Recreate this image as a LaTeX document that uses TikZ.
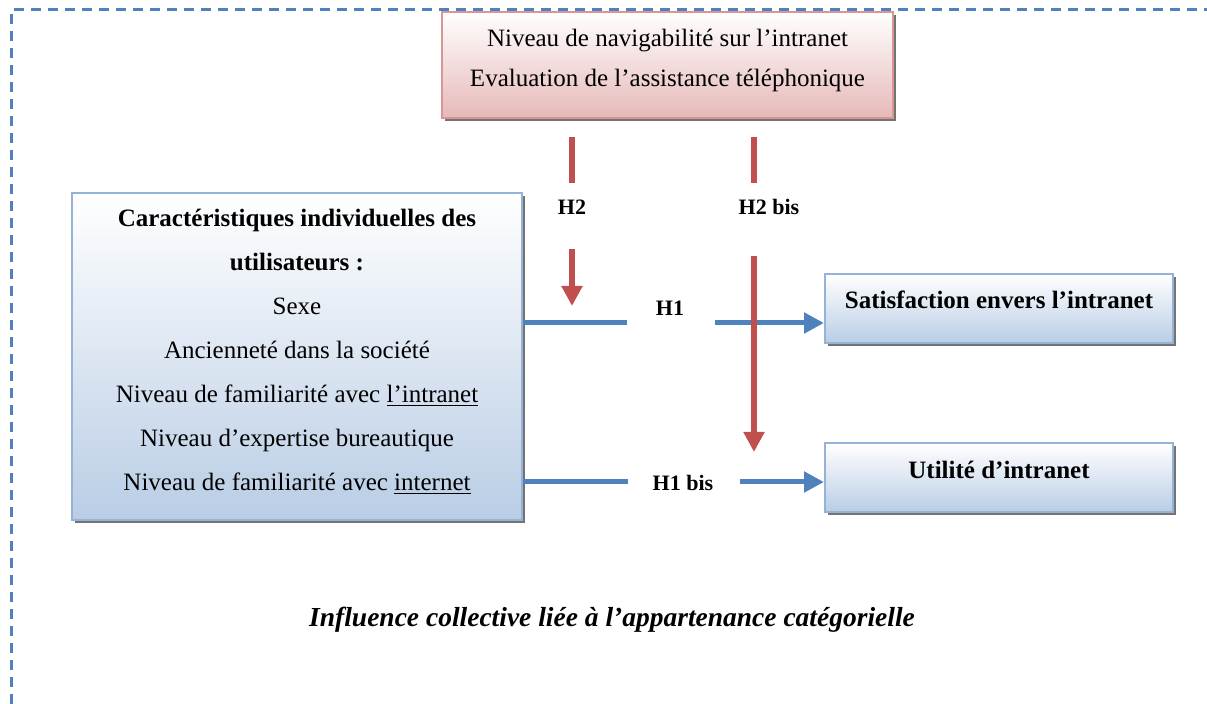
\documentclass[tikz,border=0pt]{standalone}
\usepackage{fontspec}
\setmainfont{Liberation Serif}
\usetikzlibrary{arrows.meta,shadows}
\definecolor{redline}{HTML}{C0504D}
\definecolor{blueline}{HTML}{4F81BD}
\definecolor{pinkedge}{HTML}{D99694}
\definecolor{pinkfill}{HTML}{E6B9B8}
\definecolor{blueedge}{HTML}{95B3D7}
\definecolor{bluefill}{HTML}{B9CDE5}

\begin{document}
\begin{tikzpicture}[x=0.5pt,y=-0.5pt,
        shadowed/.style={drop shadow={shadow xshift=1.5pt,shadow yshift=-1.5pt,fill=black!55,opacity=1}},
        pinkbox/.style={draw=pinkedge,line width=1pt,top color=white,bottom color=pinkfill,inner sep=0pt,shadowed},
        bluebox/.style={draw=blueedge,line width=1pt,top color=white,bottom color=bluefill,inner sep=0pt,shadowed},
        boxtext/.style={align=center,inner sep=0pt},
        hyp/.style={font=\bfseries\fontsize{11}{13}\selectfont,inner sep=0pt},
        bluelink/.style={draw=blueline,line width=2.5pt},
        redlink/.style={draw=redline,line width=3pt},
        tip/.style={-{Triangle[length=10pt,width=10pt]}},
        frame/.style={draw=blueline,line width=1.5pt,dash pattern=on 5pt off 3.5pt}]
    \useasboundingbox (0,0) rectangle (1207,704);

    % dashed frame
    \draw[frame] (11,704) -- (11,10) -- (1207,10);

    % boxes
    \node[pinkbox,minimum width=225.5pt,minimum height=53pt] (navbox) at (667.5,65) {};
    \node[boxtext,font=\fontsize{12.5}{20}\selectfont] (navtext) at (667.5,60)
        {Niveau de navigabilité sur l’intranet\\Evaluation de l’assistance téléphonique};

    \node[bluebox,minimum width=225pt,minimum height=163.5pt] (userbox) at (297,356.5) {};
    \node[boxtext,font=\fontsize{12.5}{22}\selectfont] (usertext) at (297,352)
        {\textbf{Caractéristiques individuelles des}\\\textbf{utilisateurs :}\\Sexe\\
         Ancienneté dans la société\\Niveau de familiarité avec \underline{l’intranet}\\
         Niveau d’expertise bureautique\\Niveau de familiarité avec \underline{internet}};

    \node[bluebox,minimum width=174pt,minimum height=34.5pt] (satbox) at (999,308.5) {};
    \node[boxtext,font=\bfseries\fontsize{12.5}{15}\selectfont,anchor=base] (sattext) at (999,309)
        {Satisfaction envers l’intranet};

    \node[bluebox,minimum width=174pt,minimum height=34.5pt] (utilbox) at (999,477.5) {};
    \node[boxtext,font=\bfseries\fontsize{12.5}{15}\selectfont,anchor=base] (utiltext) at (999,479)
        {Utilité d’intranet};

    % hypotheses
    \node[hyp] (h1) at (670,308) {H1};
    \node[hyp] (h1bis) at (683,483) {H1 bis};
    \node[hyp] (h2) at (572,207) {H2};
    \node[hyp] (h2bis) at (769,207) {H2 bis};

    \coordinate (h1l) at (627,323);
    \coordinate (h1r) at (715,323);
    \coordinate (h1bisl) at (628,482);
    \coordinate (h1bisr) at (740,482);
    \draw[bluelink] (userbox.east |- h1l) -- (h1l);
    \draw[bluelink,tip] (h1r) -- (satbox.west |- h1r);
    \draw[bluelink] (userbox.east |- h1bisl) -- (h1bisl);
    \draw[bluelink,tip] (h1bisr) -- (utilbox.west |- h1bisr);

    \coordinate (h2a) at (572,137);
    \coordinate (h2b) at (572,183);
    \coordinate (h2c) at (572,249);
    \coordinate (h2d) at (572,306);
    \coordinate (h2bisa) at (754,137);
    \coordinate (h2bisb) at (754,183);
    \coordinate (h2bisc) at (754,256);
    \coordinate (h2bisd) at (754,452);
    \draw[redlink] (h2a) -- (h2b);
    \draw[redlink,tip] (h2c) -- (h2d);
    \draw[redlink] (h2bisa) -- (h2bisb);
    \draw[redlink,tip] (h2bisc) -- (h2bisd);

    \node[font=\bfseries\itshape\fontsize{13.75}{16}\selectfont] (caption) at (612,620)
        {Influence collective liée à l’appartenance catégorielle};
\end{tikzpicture}
\end{document}
